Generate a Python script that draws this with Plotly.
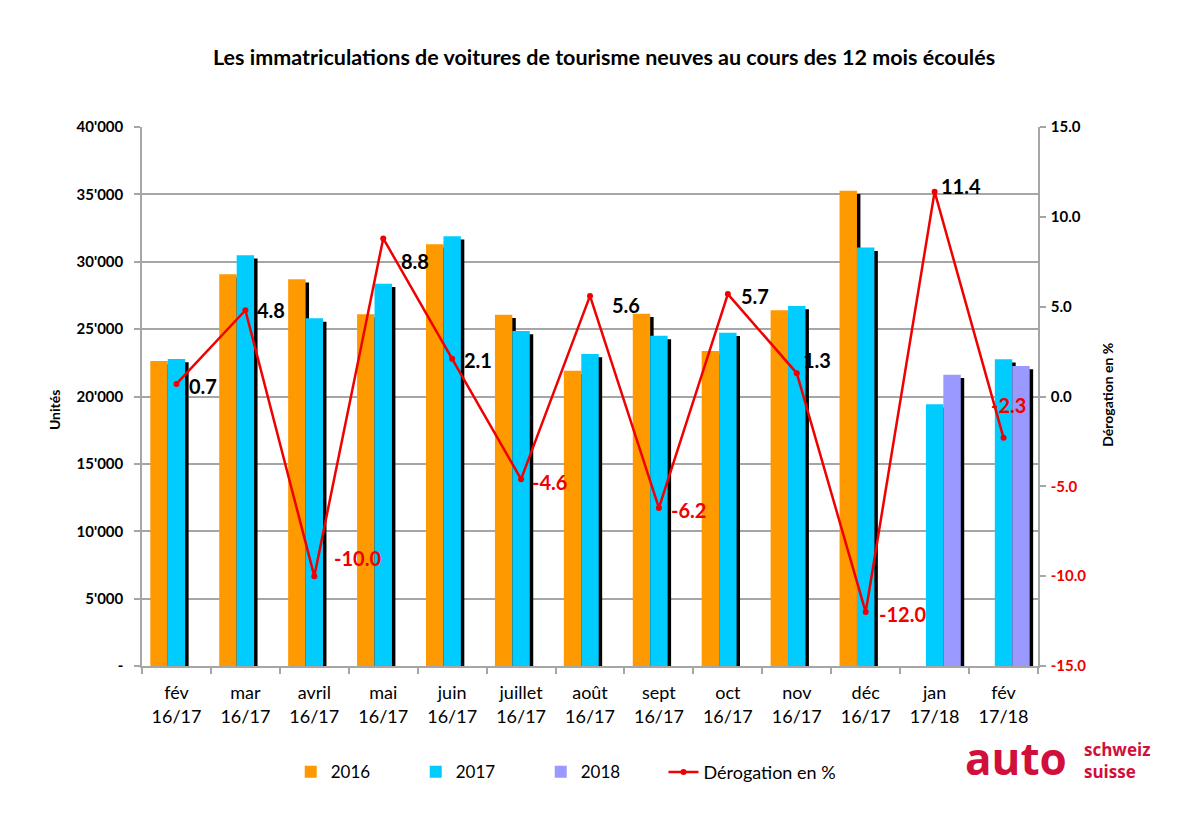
import plotly.graph_objects as go

# ---------------- data ----------------
months = ["fév", "mar", "avril", "mai", "juin", "juillet", "août", "sept", "oct", "nov", "déc", "jan", "fév"]
periods = ["16/17"] * 11 + ["17/18"] * 2
units_2016 = [22630, 29070, 28700, 26100, 31300, 26070, 21920, 26150, 23380, 26400, 35270, None, None]
units_2017 = [22780, 30480, 25800, 28370, 31900, 24860, 23150, 24500, 24740, 26720, 31050, 19420, 22760]
units_2018 = [None] * 11 + [21620, 22260]
derogation = [0.7, 4.8, -10.0, 8.8, 2.1, -4.6, 5.6, -6.2, 5.7, 1.3, -12.0, 11.4, -2.3]
left_tick_vals = [0, 5000, 10000, 15000, 20000, 25000, 30000, 35000, 40000]
left_tick_text = ["-", "5'000", "10'000", "15'000", "20'000", "25'000", "30'000", "35'000", "40'000"]
right_tick_vals = [-15, -10, -5, 0, 5, 10, 15]

# ---------------- style ----------------
FONT = "Lato"
C2016, C2017, C2018 = "#FF9900", "#00CCFF", "#9999FF"
RED = "#F00000"
LOGO = "#D0103A"
GRID = "#A6A6A6"
W = 0.253
SH_X, SH_Y = 0.05, -245
slot = {"2016": -1.5 * W, "2017": -0.5 * W, "2018": 0.5 * W}
# pixel offsets of the data labels (xshift, yshift)
label_offsets = [(11, -2), (10, 0), (18, 18), (16, -23), (10, -1), (9, -3), (20, -9),
                 (10, -2), (11, -2), (4, 13), (11, -2), (4, 6), (-15, 33)]

x = list(range(len(months)))
series = [("2016", units_2016, C2016), ("2017", units_2017, C2017), ("2018", units_2018, C2018)]

fig = go.Figure()
# shadows first
for name, vals, col in series:
    fig.add_trace(go.Bar(x=x, y=vals, base=SH_Y, width=W, offset=slot[name] + SH_X,
                         marker=dict(color="black", line=dict(width=0)),
                         showlegend=False, hoverinfo="skip"))
for name, vals, col in series:
    fig.add_trace(go.Bar(x=x, y=vals, width=W, offset=slot[name], name=name,
                         marker=dict(color=col, line=dict(width=0))))

fig.add_trace(go.Scatter(x=x, y=derogation, yaxis="y2", mode="lines+markers",
                         name="Dérogation en %", legend="legend2",
                         line=dict(color=RED, width=2.5),
                         marker=dict(color=RED, size=6)))

annotations = []
for i, d in enumerate(derogation):
    dx, dy = label_offsets[i]
    annotations.append(dict(x=i, y=d, xref="x", yref="y2", text=f"{d:.1f}",
                            showarrow=False, xanchor="left", yanchor="middle",
                            xshift=dx, yshift=dy,
                            font=dict(family=FONT, size=20, color="black" if d >= 0 else RED,
                                      weight="bold")))

annotations += [
    dict(text="Les immatriculations de voitures de tourisme neuves au cours des 12 mois écoulés",
         xref="paper", yref="paper", x=0.516, y=1.13, showarrow=False,
         xanchor="center", yanchor="middle",
         font=dict(family=FONT, size=21.5, color="black", weight="bold")),
    dict(text="Unités", xref="paper", yref="paper", x=-0.097, y=0.475, textangle=-90,
         showarrow=False, xanchor="center", yanchor="middle",
         font=dict(family=FONT, size=14, color="black", weight="bold")),
    dict(text="Dérogation en %", xref="paper", yref="paper", x=1.078, y=0.503, textangle=-90,
         showarrow=False, xanchor="center", yanchor="middle",
         font=dict(family=FONT, size=14, color="black", weight="bold")),
    dict(text="auto", xref="paper", yref="paper", x=0.916, y=-0.170, showarrow=False,
         xanchor="left", yanchor="middle",
         font=dict(family="Open Sans", size=44, color=LOGO, weight="bold")),
    dict(text="schweiz<br>suisse", xref="paper", yref="paper", x=1.049, y=-0.176,
         showarrow=False, xanchor="left", yanchor="middle", align="left",
         font=dict(family="Open Sans", size=17, color=LOGO, weight="bold")),
]

right_tick_text = [
    (f"<span style='color:{RED}'>{v:.1f}</span>" if v < 0 else f"{v:.1f}") for v in right_tick_vals
]

# the page body has an 8px margin, so the figure is 8px smaller and margins are shifted
fig.update_layout(
    width=1192, height=831,
    margin=dict(l=134, r=162, t=119, b=173),
    paper_bgcolor="white", plot_bgcolor="white",
    barmode="overlay",
    font=dict(family=FONT, color="black"),
    xaxis=dict(range=[-0.5, len(months) - 0.5],
               tickvals=x, ticktext=[f"{m}<br>{p}" for m, p in zip(months, periods)],
               ticks="", tickfont=dict(size=18, family=FONT, color="black"),
               ticklabelstandoff=10,
               showline=True, linecolor=GRID, linewidth=1.5, showgrid=False, zeroline=False,
               minor=dict(tickvals=[i - 0.5 for i in range(len(months) + 1)],
                          ticks="outside", ticklen=6, tickcolor=GRID, tickwidth=1.5)),
    yaxis=dict(range=[0, 40000], tickvals=left_tick_vals, ticktext=left_tick_text,
               ticks="outside", ticklen=6, tickcolor=GRID, tickwidth=1.5,
               ticklabelstandoff=8,
               tickfont=dict(size=15, family=FONT, color="black", weight="bold"),
               showline=True, linecolor=GRID, linewidth=1.5,
               showgrid=True, gridcolor=GRID, gridwidth=1.5, zeroline=False),
    yaxis2=dict(range=[-15, 15], overlaying="y", side="right",
                tickvals=right_tick_vals, ticktext=right_tick_text,
                ticks="outside", ticklen=6, tickcolor=GRID, tickwidth=1.5,
                ticklabelstandoff=2,
                tickfont=dict(size=15, family=FONT, color="black", weight="bold"),
                showline=True, linecolor=GRID, linewidth=1.5,
                showgrid=False, zeroline=False),
    legend=dict(orientation="h", x=0.166, y=-0.197, xanchor="left", yanchor="middle",
                font=dict(size=17, family=FONT, color="black"),
                entrywidth=80, entrywidthmode="pixels", traceorder="normal",
                bgcolor="rgba(0,0,0,0)"),
    legend2=dict(orientation="h", x=0.582, y=-0.197, xanchor="left", yanchor="middle",
                 font=dict(size=18, family=FONT, color="black"),
                 bgcolor="rgba(0,0,0,0)"),
    annotations=annotations,
    showlegend=True,
)

fig.write_html("out.html")
